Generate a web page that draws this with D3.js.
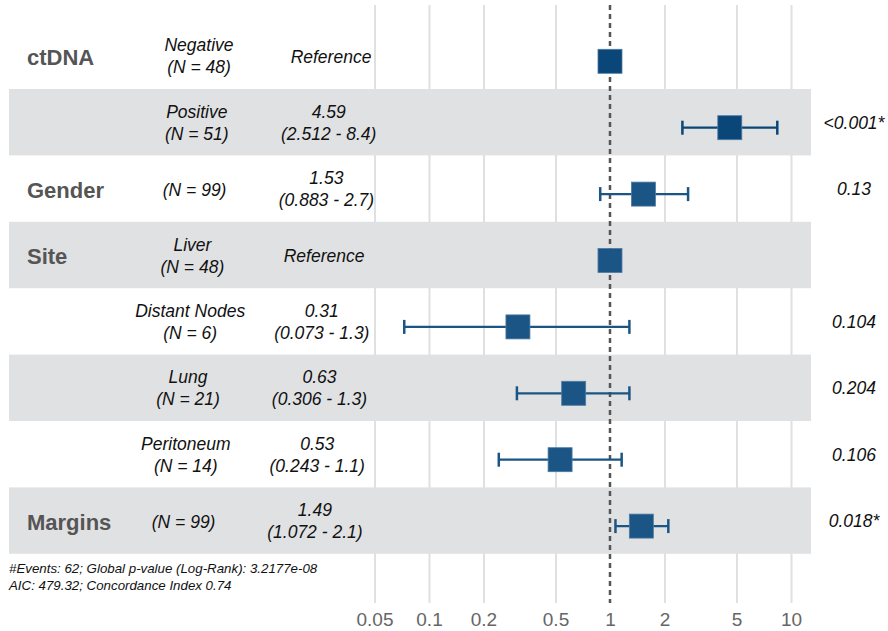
<!DOCTYPE html>
<html><head><meta charset="utf-8">
<script src="https://cdn.jsdelivr.net/npm/d3@7"></script>
<style>
html,body{margin:0;padding:0;background:#fff;}
svg{display:block;font-family:"Liberation Sans",Arial,Helvetica,sans-serif;}
</style></head>
<body>
<svg id="chart" width="888" height="631"></svg>
<script>
// ---- data ----
const variables = ["ctDNA", "", "Gender", "Site", "", "", "", "Margins"];
const levels = ["Negative", "Positive", "", "Liver", "Distant Nodes", "Lung", "Peritoneum", ""];
const counts = [48, 51, 99, 48, 6, 21, 14, 99];
const hazard = [1, 4.59, 1.53, 1, 0.31, 0.63, 0.53, 1.49];
const ciLower = [null, 2.512, 0.883, null, 0.073, 0.306, 0.243, 1.072];
const ciUpper = [null, 8.4, 2.7, null, 1.28, 1.28, 1.16, 2.1];
const ciLabels = ["", "(2.512 - 8.4)", "(0.883 - 2.7)", "", "(0.073 - 1.3)", "(0.306 - 1.3)", "(0.243 - 1.1)", "(1.072 - 2.1)"];
const pValues = ["", "<0.001*", "0.13", "", "0.104", "0.204", "0.106", "0.018*"];
const isReference = [true, false, false, true, false, false, false, false];
const groupOf = ["ctDNA", "ctDNA", "Gender", "Site", "Site", "Site", "Site", "Margins"];
const tickValues = [0.05, 0.1, 0.2, 0.5, 1, 2, 5, 10];
const noteLines = ["#Events: 62; Global p-value (Log-Rank): 3.2177e-08", "AIC: 479.32; Concordance Index 0.74"];

// ---- layout ----
const svg = d3.select("#chart");
const x = d3.scaleLog().domain([0.05, 10]).range([374.5, 791]);
const rowIdx = d3.range(levels.length);
const y = d3.scaleBand().domain(rowIdx).range([22.6, 553.8]).paddingInner(0).paddingOuter(0);
const bandCenter = i => y(i) + y.bandwidth() / 2;
const pointY = i => bandCenter(i) + 5.5;
const colorFor = i => groupOf[i] === "ctDNA" ? "#0a4677" : "#1b5585";
const gridTop = 5, gridBottom = 603;
const levelX = i => 199 - 2.2 * i;
const estX = i => 331 - 2.3 * i;

// gridlines (via axis)
const gridAxis = d3.axisBottom(x).tickValues(tickValues.filter(t => t !== 1)).tickSize(-(gridBottom - gridTop)).tickFormat("");
const gg = svg.append("g").attr("transform", `translate(0,${gridBottom})`).call(gridAxis);
gg.select(".domain").remove();
gg.selectAll(".tick line").attr("stroke", "#e0e0e0").attr("stroke-width", 2);

// bands
svg.append("g").selectAll("rect").data(rowIdx.filter(i => i % 2 === 1)).join("rect")
  .attr("x", 9).attr("width", 811 - 9)
  .attr("y", i => y(i)).attr("height", y.bandwidth())
  .attr("fill", "#e0e1e3");

// reference line
svg.append("line").attr("x1", x(1)).attr("x2", x(1)).attr("y1", gridTop).attr("y2", gridBottom)
  .attr("stroke", "#555").attr("stroke-width", 2.5).attr("stroke-dasharray", "5,4");

// tick labels
const labelAxis = d3.axisBottom(x).tickValues(tickValues).tickSize(0).tickPadding(0)
  .tickFormat(d => d3.format("~g")(d));
const la = svg.append("g").attr("transform", `translate(0,619)`).call(labelAxis);
la.select(".domain").remove();
la.selectAll(".tick text").attr("fill", "#666").attr("font-size", 19)
  .attr("font-family", "Liberation Sans, Arial, sans-serif")
  .attr("dy", null).attr("y", 0).attr("dominant-baseline", "central");

// error bars
const eb = svg.append("g");
rowIdx.filter(i => ciLower[i] != null).forEach(i => {
  const c = colorFor(i), yy = pointY(i);
  eb.append("line").attr("x1", x(ciLower[i])).attr("x2", x(ciUpper[i])).attr("y1", yy).attr("y2", yy)
    .attr("stroke", c).attr("stroke-width", 2.2);
  [ciLower[i], ciUpper[i]].forEach(v => {
    eb.append("line").attr("x1", x(v)).attr("x2", x(v)).attr("y1", yy - 7).attr("y2", yy + 7)
      .attr("stroke", c).attr("stroke-width", 2.5);
  });
});

// points
const sq = 24;
svg.append("g").selectAll("rect").data(rowIdx).join("rect")
  .attr("x", i => x(hazard[i]) - sq / 2).attr("y", i => pointY(i) - sq / 2)
  .attr("width", sq).attr("height", sq)
  .attr("fill", i => colorFor(i)).attr("stroke", "#4f7ba3").attr("stroke-width", 0.8);

// text annotations
const tg = svg.append("g");
const addText = (xx, yy, txt, anchor) => tg.append("text").attr("x", xx).attr("y", yy)
  .attr("dominant-baseline", "central").attr("text-anchor", anchor)
  .attr("font-size", 17.5).attr("font-style", "italic").attr("fill", "#111").text(txt);
rowIdx.forEach(i => {
  const c = bandCenter(i);
  if (variables[i]) {
    tg.append("text").attr("x", 27).attr("y", c + 1.5).attr("dominant-baseline", "central")
      .attr("font-size", 22).attr("font-weight", "bold").attr("fill", "#555").text(variables[i]);
  }
  const nTxt = `(N = ${counts[i]})`;
  if (levels[i]) {
    addText(levelX(i), c - 10.5, levels[i], "middle");
    addText(levelX(i), c + 11.5, nTxt, "middle");
  } else {
    addText(levelX(i), c + 1, nTxt, "middle");
  }
  if (isReference[i]) {
    addText(estX(i), c + 1, "Reference", "middle");
  } else {
    addText(estX(i), c - 10.5, hazard[i], "middle");
    addText(estX(i), c + 11.5, ciLabels[i], "middle");
  }
  if (pValues[i]) addText(854, c + 0.5, pValues[i], "middle");
});

// note
noteLines.forEach((t, k) => {
  svg.append("text").attr("x", 9).attr("y", 573 + k * 16.5).attr("font-size", 13.3)
    .attr("font-style", "italic").attr("fill", "#111").text(t);
});
</script>
</body></html>
